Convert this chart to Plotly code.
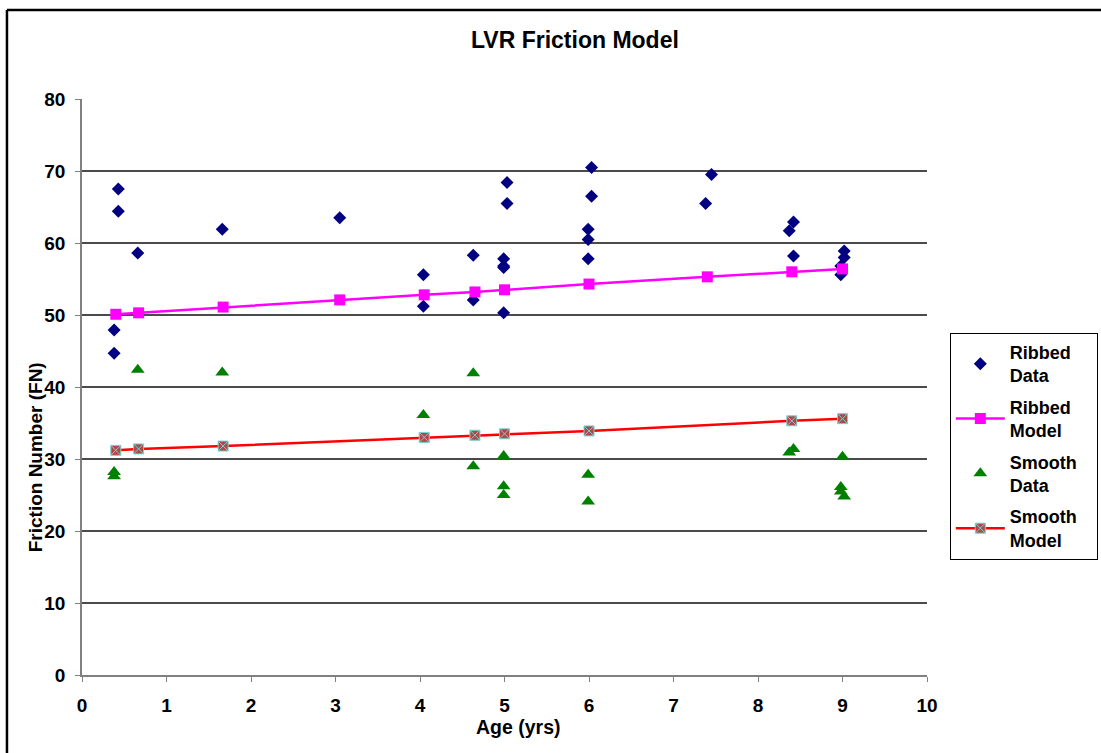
import plotly.graph_objects as go

# Ribbed surface: measured friction numbers
ribbed_age = [0.43, 0.43, 0.38, 0.38, 0.66, 1.66, 3.05, 4.04, 4.04, 4.63, 4.63,
              5.03, 5.03, 4.99, 4.99, 4.99, 4.99, 6.03, 6.03, 5.99, 5.99, 5.99,
              7.45, 7.38, 8.42, 8.37, 8.42, 9.02, 9.02, 8.98, 8.98]
ribbed_fn = [67.5, 64.4, 47.9, 44.7, 58.6, 61.9, 63.5, 55.6, 51.2, 58.3, 52.1,
             68.4, 65.5, 57.8, 56.8, 56.6, 50.3, 70.5, 66.5, 61.9, 60.5, 57.8,
             69.5, 65.5, 62.9, 61.7, 58.2, 58.9, 58.0, 56.8, 55.6]

# Ribbed surface: model
ribbed_model_age = [0.4, 0.67, 1.67, 3.05, 4.05, 4.65, 5.0, 6.0, 7.4, 8.4, 9.0]
ribbed_model_fn = [50.1, 50.3, 51.1, 52.1, 52.8, 53.2, 53.5, 54.3, 55.3, 56.0, 56.4]

# Smooth surface: measured friction numbers
smooth_age = [0.38, 0.38, 0.66, 1.66, 4.04, 4.63, 4.63, 4.99, 4.99, 4.99,
              5.99, 5.99, 8.42, 8.37, 9.0, 8.98, 8.98, 9.02]
smooth_fn = [28.2, 27.6, 42.4, 42.0, 36.1, 41.9, 29.0, 30.4, 26.2, 25.0,
             27.8, 24.1, 31.4, 30.9, 30.3, 26.1, 25.5, 24.8]

# Smooth surface: model
smooth_model_age = [0.4, 0.67, 1.67, 4.05, 4.65, 5.0, 6.0, 8.4, 9.0]
smooth_model_fn = [31.2, 31.4, 31.8, 33.0, 33.3, 33.5, 33.9, 35.3, 35.6]

x_ticks = list(range(0, 11))
y_ticks = list(range(0, 90, 10))

FONT = "Liberation Sans, Arial, sans-serif"
PAD = "&nbsp;&nbsp;&nbsp;"  # right padding inside the legend box

fig = go.Figure()
fig.add_trace(go.Scatter(
    x=ribbed_age, y=ribbed_fn, mode="markers", name="<b>Ribbed<br>Data</b>",
    legendgroup="rd",
    marker=dict(symbol="diamond", size=10, color="#000080"),
))
fig.add_trace(go.Scatter(
    x=ribbed_model_age, y=ribbed_model_fn, mode="lines+markers",
    name="<b>Ribbed<br>Model</b>", legendgroup="rm",
    line=dict(color="#FF00FF", width=2.5),
    marker=dict(symbol="square", size=11, color="#FF00FF"),
))
fig.add_trace(go.Scatter(
    x=smooth_age, y=smooth_fn, mode="markers",
    name="<b>Smooth" + PAD + "<br>Data</b>", legendgroup="sd",
    marker=dict(symbol="triangle-up", size=12, color="#008000"),
))
fig.add_trace(go.Scatter(
    x=smooth_model_age, y=smooth_model_fn, mode="lines+markers",
    name="<b>Smooth" + PAD + "<br>Model</b>", legendgroup="sm",
    line=dict(color="#FF0000", width=2.5),
    marker=dict(symbol="square-x", size=10, color="#B04848",
                line=dict(color="#6FD6D6", width=1)),
))

axis_common = dict(
    showline=True, linecolor="#808080", linewidth=1.5,
    ticks="outside", ticklen=5, tickcolor="#808080", tickwidth=1,
    tickfont=dict(family=FONT, size=19, color="#000000", weight="bold"),
    zeroline=False,
)

fig.update_xaxes(
    range=[0, 10], tickvals=x_ticks, showgrid=False,
    ticklabelstandoff=7, **axis_common,
)
fig.update_yaxes(
    range=[0, 80], tickvals=y_ticks, showgrid=True,
    gridcolor="#4a4a4a", gridwidth=1.5, ticklabelstandoff=6, **axis_common,
)

fig.update_layout(
    width=1101, height=753,
    margin=dict(l=82, r=174, t=99, b=78, autoexpand=False),
    paper_bgcolor="#FFFFFF", plot_bgcolor="#FFFFFF",
    font=dict(family=FONT, color="#000000"),
    showlegend=True,
    legend=dict(
        x=1.027, y=0.594, xanchor="left", yanchor="top",
        bgcolor="#FFFFFF", bordercolor="#000000", borderwidth=1,
        font=dict(family=FONT, size=18, color="#000000"),
        itemwidth=49, tracegroupgap=5,
    ),
    annotations=[
        dict(text="<b>LVR Friction Model</b>", xref="paper", yref="paper",
             x=0.583, y=1.102, xanchor="center", yanchor="middle",
             showarrow=False, font=dict(family=FONT, size=23)),
        dict(text="<b>Age (yrs)</b>", xref="paper", yref="paper",
             x=0.516, y=-0.090, xanchor="center", yanchor="middle",
             showarrow=False, font=dict(family=FONT, size=19.5)),
        dict(text="<b>Friction Number (FN)</b>", xref="paper", yref="paper",
             x=-0.0556, y=0.378, xanchor="center", yanchor="middle",
             textangle=-90, showarrow=False, font=dict(family=FONT, size=19)),
    ],
    shapes=[
        # outer chart frame (left and top edges)
        dict(type="line", xref="paper", yref="paper",
             x0=-0.0888, x1=1.30, y0=1.1545, y1=1.1545,
             line=dict(color="#000000", width=2.5)),
        dict(type="line", xref="paper", yref="paper",
             x0=-0.0888, x1=-0.0888, y0=1.1545, y1=-0.20,
             line=dict(color="#000000", width=2.5)),
    ],
)

fig.write_html("out.html")
